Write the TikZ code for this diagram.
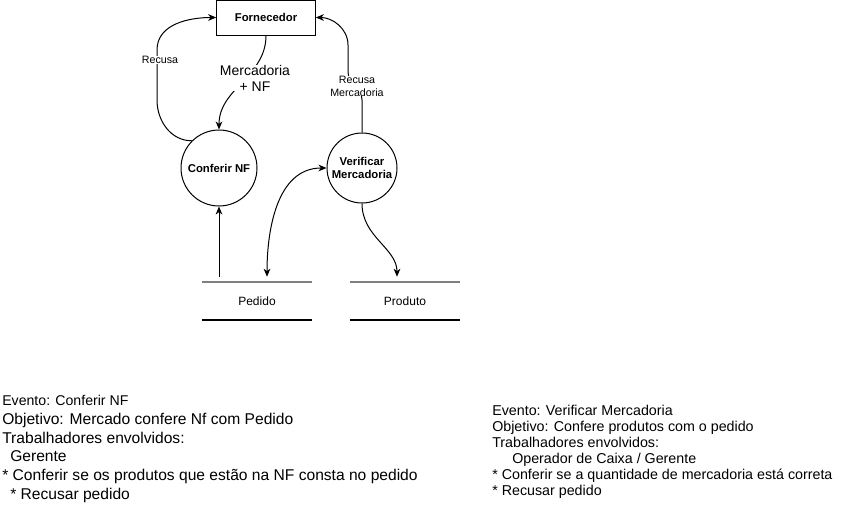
\documentclass[tikz,border=0pt]{standalone}
\usepackage{fontspec}
\setmainfont{Liberation Sans}
\usetikzlibrary{arrows.meta}

\begin{document}
\begin{tikzpicture}[x=0.75pt,y=-0.75pt,
  every node/.style={inner sep=0pt},
  >={Stealth[length=6pt,width=5pt,inset=1.8pt]},
  flow/.style={->,line width=0.75pt},
  entity/.style={draw,line width=0.75pt,minimum width=74pt,minimum height=26.25pt,font=\fontsize{8.5}{10}\selectfont\bfseries},
  proc/.style={circle,draw,line width=0.75pt,minimum size=#1,align=center,font=\fontsize{8.5}{10}\selectfont\bfseries},
  store/.style={minimum width=82.5pt,minimum height=28.5pt,font=\fontsize{9}{10}\selectfont},
  lbl/.style={fill=white,align=center,font=\fontsize{10.5}{12}\selectfont},
  smalllbl/.style={fill=white,align=center,font=\fontsize{8}{9.75}\selectfont}]

  \useasboundingbox (0,0) rectangle (852,525);

  \node[entity] (forn) at (266,17.5) {Fornecedor};
  \node[proc=57pt] (conf) at (219,168) {Conferir NF};
  \node[proc=52.5pt] (verif) at (362,168) {Verificar\\Mercadoria};
  \node[store] (pedido) at (257,301) {Pedido};
  \node[store] (produto) at (405,301) {Produto};

  \foreach \s in {pedido,produto} {
    \draw[gray,line width=1.5pt] (\s.north west) -- (\s.north east);
    \draw[line width=1.5pt] (\s.south west) -- (\s.south east);
  }

  % fornecedor -> conferir
  \draw[flow] (forn.south) to[out=-90,in=90] (conf.north);
  \node[lbl] (mnf) at (255,78) {Mercadoria\\+ NF};

  % recusas
  \draw[flow] (conf.135) to[out=180,in=-90] (157,100) -- (157,50) to[out=90,in=180] (forn.west);
  \node[smalllbl] (rec) at (160,60) {Recusa};
  \draw[flow] (verif.north) -- (362,100) to[out=90,in=-90] (348,72) -- (348,45) to[out=90,in=0] (forn.east);
  \node[smalllbl] (recm) at (357,86) {Recusa\\Mercadoria};

  % depositos
  \draw[flow,shorten <=3.75pt] (conf.south |- pedido.north) -- (conf.south);
  \draw[flow,<->,shorten >=3.75pt] (verif.west) to[out=180,in=90] ([xshift=7.5pt]pedido.north);
  \draw[flow,shorten >=3.75pt] (verif.south) to[out=-90,in=90] ([xshift=-6pt]produto.north);

  \node[anchor=north west,align=left,font=\fontsize{11.7}{14.1}\selectfont] (txtconf) at (2,395)
    {{\fontsize{10.6}{12}\selectfont Evento: Conferir NF}\\
     Objetivo: Mercado confere Nf com Pedido\\
     Trabalhadores envolvidos:\\
     \hspace*{6pt}Gerente\\
     * Conferir se os produtos que estão na NF consta no pedido\\
     \hspace*{6pt}* Recusar pedido};
  \node[anchor=north west,align=left,font=\fontsize{10.7}{12}\selectfont] (txtverif) at (492,405)
    {Evento: Verificar Mercadoria\\
     Objetivo: Confere produtos com o pedido\\
     Trabalhadores envolvidos:\\
     \hspace*{15pt}Operador de Caixa / Gerente\\
     * Conferir se a quantidade de mercadoria está correta\\
     * Recusar pedido};

\end{tikzpicture}
\end{document}
